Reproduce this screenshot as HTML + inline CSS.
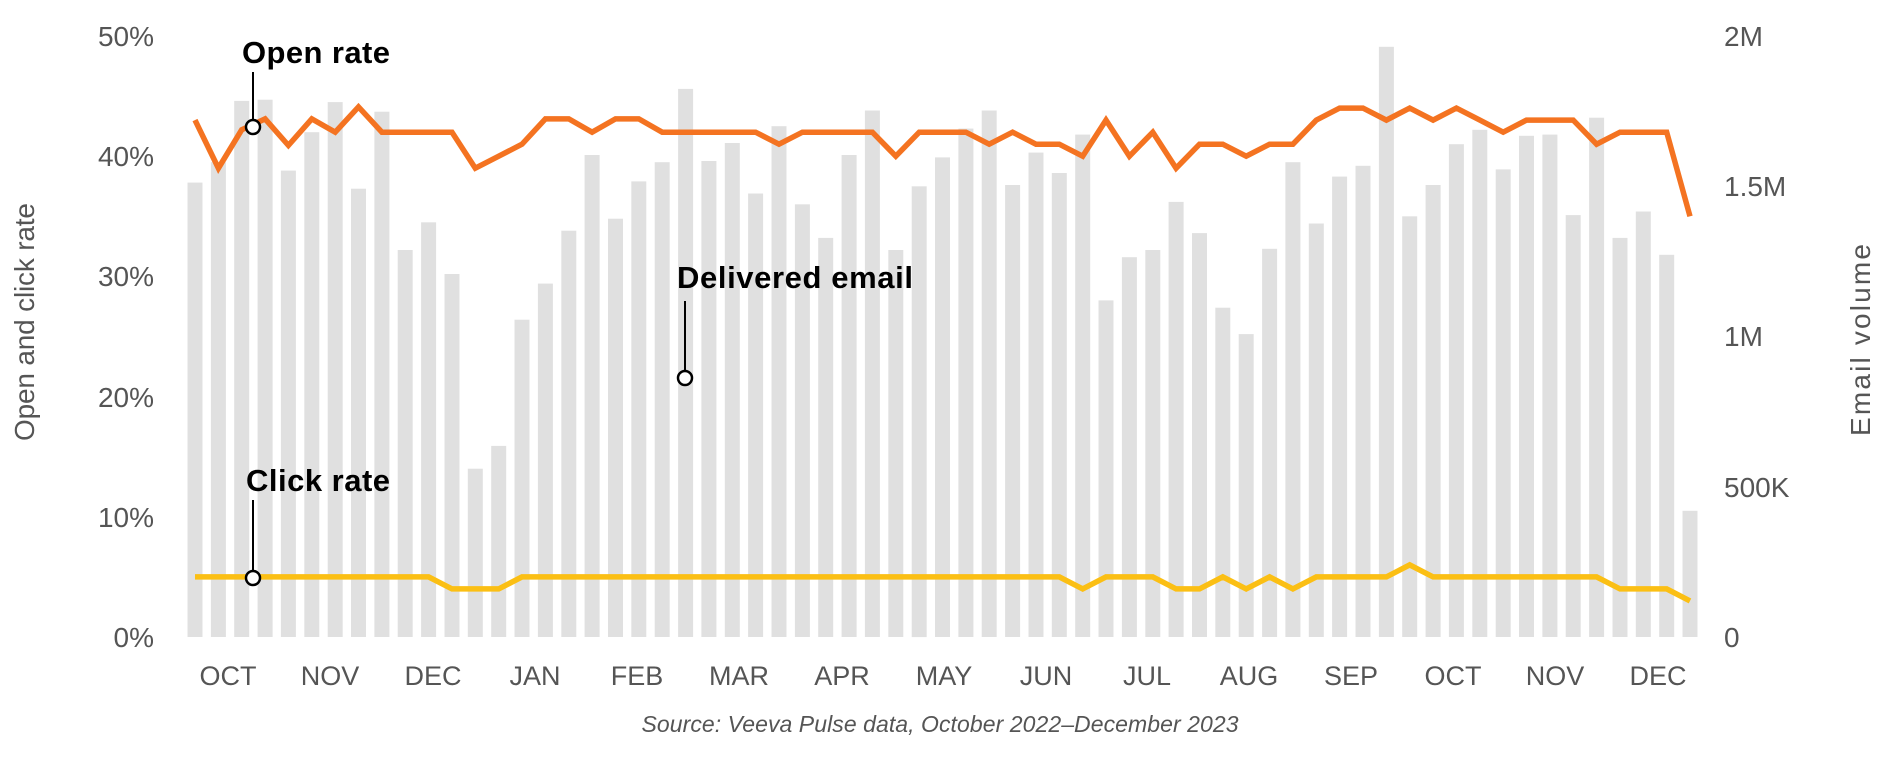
<!DOCTYPE html>
<html><head><meta charset="utf-8"><style>
body{margin:0;background:#fff;}
svg{display:block;font-family:"Liberation Sans",sans-serif;}
.t{fill:#555;font-size:28px;}
.m{fill:#555;font-size:27px;}
.a{fill:#000;font-size:31px;font-weight:bold;}
</style></head><body>
<svg id="s" width="1880" height="770" viewBox="0 0 1880 770">
<g id="bars" fill="#e0e0e0"></g>
<polyline id="open" fill="none" stroke="#f47321" stroke-width="5.5" stroke-linejoin="miter"/>
<polyline id="click" fill="none" stroke="#fbbf14" stroke-width="5.5"/>
<g class="t" text-anchor="end">
<text x="154" y="647">0%</text><text x="154" y="527">10%</text><text x="154" y="407">20%</text>
<text x="154" y="286">30%</text><text x="154" y="166">40%</text><text x="154" y="46">50%</text>
</g>
<g class="t">
<text x="1724" y="647">0</text><text x="1724" y="497">500K</text><text x="1724" y="346">1M</text>
<text x="1724" y="196">1.5M</text><text x="1724" y="46">2M</text>
</g>
<g class="m" text-anchor="middle">
<text x="228" y="685">OCT</text><text x="330" y="685">NOV</text><text x="433" y="685">DEC</text>
<text x="535" y="685">JAN</text><text x="637" y="685">FEB</text><text x="739" y="685">MAR</text>
<text x="842" y="685">APR</text><text x="944" y="685">MAY</text><text x="1046" y="685">JUN</text>
<text x="1147" y="685">JUL</text><text x="1249" y="685">AUG</text><text x="1351" y="685">SEP</text>
<text x="1453" y="685">OCT</text><text x="1555" y="685">NOV</text><text x="1658" y="685">DEC</text>
</g>
<text class="t" transform="translate(34,322) rotate(-90)" text-anchor="middle" textLength="238">Open and click rate</text>
<text class="t" transform="translate(1870,340) rotate(-90)" text-anchor="middle" textLength="192">Email volume</text>
<text x="940" y="732" text-anchor="middle" style="fill:#555;font-size:23px;font-style:italic" textLength="597">Source: Veeva Pulse data, October 2022–December 2023</text>
<g stroke="#000" stroke-width="2">
<line x1="253" y1="72" x2="253" y2="120"/><line x1="253" y1="500" x2="253" y2="572"/><line x1="685" y1="301" x2="685" y2="371"/>
</g>
<g fill="#fff" stroke="#000" stroke-width="2.5">
<circle cx="253" cy="127" r="7"/><circle cx="253" cy="578" r="7"/><circle cx="685" cy="378" r="7"/>
</g>
<text class="a" x="242" y="63" textLength="148">Open rate</text>
<text class="a" x="246" y="491" textLength="144">Click rate</text>
<text class="a" x="677" y="288" textLength="236">Delivered email</text>
</svg>
<script>
var bars=[37.8,39.5,44.6,44.7,38.8,42,44.5,37.3,43.7,32.2,34.5,30.2,14,15.9,26.4,29.4,33.8,40.1,34.8,37.9,39.5,45.6,39.6,41.1,36.9,42.5,36,33.2,40.1,43.8,32.2,37.5,39.9,
42.3,43.8,37.6,40.3,38.6,41.8,28,31.6,32.2,36.2,33.6,27.4,25.2,32.3,39.5,34.4,38.3,39.2,49.1,35,37.6,41,42.2,38.9,41.7,41.8,35.1,43.2,33.2,35.4,31.8,10.5];
var open=[43,39,42.2,43.1,40.9,43.1,42,44.1,42,42,42,42,39,40,41,43.1,43.1,42,43.1,43.1,42,42,42,42,42,41,42,42,42,42,40,42,42,
42,41,42,41,41,40,43,40,42,39,41,41,40,41,41,43,44,44,43,44,43,44,43,42,43,43,43,41,42,42,42,35];
var click=[];for(var i=0;i<65;i++)click.push(5);
[11,12,13].forEach(function(i){click[i]=4});
[38,42,43,45,47,62,63].forEach(function(i){click[i]=4});
click[61]=4;click[52]=6;click[64]=3;
function X(i){return 195+i*23.36}function Y(p){return 637-p*12.02}
var g=document.getElementById('bars'),h='';
bars.forEach(function(b,i){h+='<rect x="'+(X(i)-7.5).toFixed(1)+'" y="'+Y(b).toFixed(1)+'" width="15" height="'+(b*12.02).toFixed(1)+'"/>'});
g.innerHTML=h;
document.getElementById('open').setAttribute('points',open.map(function(v,i){return X(i).toFixed(1)+','+Y(v).toFixed(1)}).join(' '));
document.getElementById('click').setAttribute('points',click.map(function(v,i){return X(i).toFixed(1)+','+Y(v).toFixed(1)}).join(' '));
</script>
</body></html>
